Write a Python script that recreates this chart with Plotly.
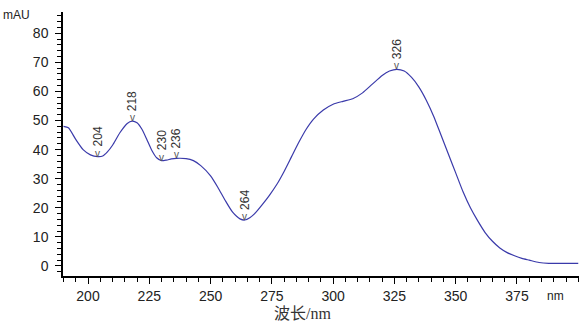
import numpy as np
import plotly.graph_objects as go

wavelength = [190, 192, 195, 198, 201, 204, 206, 208, 210, 213, 216, 218, 220, 222, 224, 226, 228, 230,
              232, 234, 236, 240, 243, 246, 250, 253, 256, 259, 262, 264, 266, 268, 271, 274, 277, 280,
              283, 286, 289, 292, 296, 300, 304, 308, 312, 316, 320, 323, 326, 329, 332, 335, 338, 341,
              344, 347, 350, 353, 356, 359, 362, 365, 368, 371, 374, 377, 380, 384, 388, 392, 396, 400]
absorbance = [48, 47.5, 43.5, 40, 38.2, 37.6, 37.8, 39.3, 41.5, 45.8, 49, 49.8, 49.2, 47, 43.5, 39.8, 37.2, 36.2,
              36.4, 36.8, 37, 36.9, 36.2, 34.5, 31, 27, 22.5, 18.5, 16.2, 15.8, 16.6, 18, 21, 24.3, 28, 32.5,
              37.5, 42.5, 47, 50.5, 53.6, 55.6, 56.6, 57.5, 59.5, 62.5, 65.5, 67, 67.6, 67, 64.8, 61.5, 57, 51.5,
              45, 38.5, 32, 25.5, 20, 15.5, 11.5, 8.5, 6.2, 4.6, 3.5, 2.6, 2, 1.2, 0.9, 0.9, 0.9, 0.9]
peak_labels = [204, 218, 230, 236, 264, 326]
x_ticks = [200, 225, 250, 275, 300, 325, 350, 375]
y_ticks = [0, 10, 20, 30, 40, 50, 60, 70, 80]

fig = go.Figure()
fig.add_trace(go.Scatter(x=wavelength, y=absorbance, mode="lines",
                         line=dict(color="#3a3aaa", width=1.2, shape="spline", smoothing=0.6),
                         hoverinfo="skip", showlegend=False))

annotations = []
for p in peak_labels:
    yv = float(np.interp(p, wavelength, absorbance))
    annotations.append(dict(x=p, y=yv, xref="x", yref="y", text="v", showarrow=False,
                            font=dict(family="Liberation Sans, Arial", size=10, color="#555"),
                            yanchor="bottom", yshift=-4))
    annotations.append(dict(x=p, y=yv, xref="x", yref="y", text=str(p), showarrow=False,
                            textangle=-90,
                            font=dict(family="Liberation Sans, Arial", size=12, color="#333"),
                            yanchor="bottom", yshift=8))

annotations.append(dict(xref="x domain", yref="y domain", x=-0.06, y=1.0, xanchor="right", yanchor="bottom",
                        yshift=-12, text="mAU", showarrow=False,
                        font=dict(family="Liberation Sans, Arial", size=12, color="#222")))
annotations.append(dict(xref="x domain", yref="y domain", x=0.975, y=0, yanchor="top", yshift=-11,
                        text="nm", showarrow=False,
                        font=dict(family="Liberation Sans, Arial", size=12, color="#222")))
annotations.append(dict(xref="x domain", yref="y domain", x=0.465, y=0, yanchor="top", yshift=-27,
                        text="波长/nm", showarrow=False,
                        font=dict(family="Liberation Serif, Noto Sans CJK SC", size=16, color="#333")))

fig.update_layout(
    width=579, height=323,
    margin=dict(l=63, r=0, t=12, b=47),
    paper_bgcolor="white", plot_bgcolor="white",
    annotations=annotations,
    xaxis=dict(range=[189.8, 400.3], tickvals=x_ticks, ticktext=[str(v) for v in x_ticks],
               showgrid=False, zeroline=False, showline=True, linecolor="black", linewidth=1.5,
               ticks="outside", ticklen=6, tickcolor="black", tickwidth=1,
               minor=dict(dtick=5, tick0=0, ticks="outside", ticklen=4, tickcolor="black", showgrid=False),
               tickfont=dict(family="Liberation Sans, Arial", size=14, color="#222")),
    yaxis=dict(range=[-3.44, 87.3], tickvals=y_ticks, ticktext=[str(v) for v in y_ticks],
               showgrid=False, zeroline=False, showline=True, linecolor="black", linewidth=1.5,
               ticks="outside", ticklen=6, tickcolor="black", tickwidth=1,
               minor=dict(dtick=2, tick0=0, ticks="outside", ticklen=4, tickcolor="black", showgrid=False),
               tickfont=dict(family="Liberation Sans, Arial", size=14, color="#222"),
               ticklabelstandoff=4),
)

fig.write_html("out.html")
